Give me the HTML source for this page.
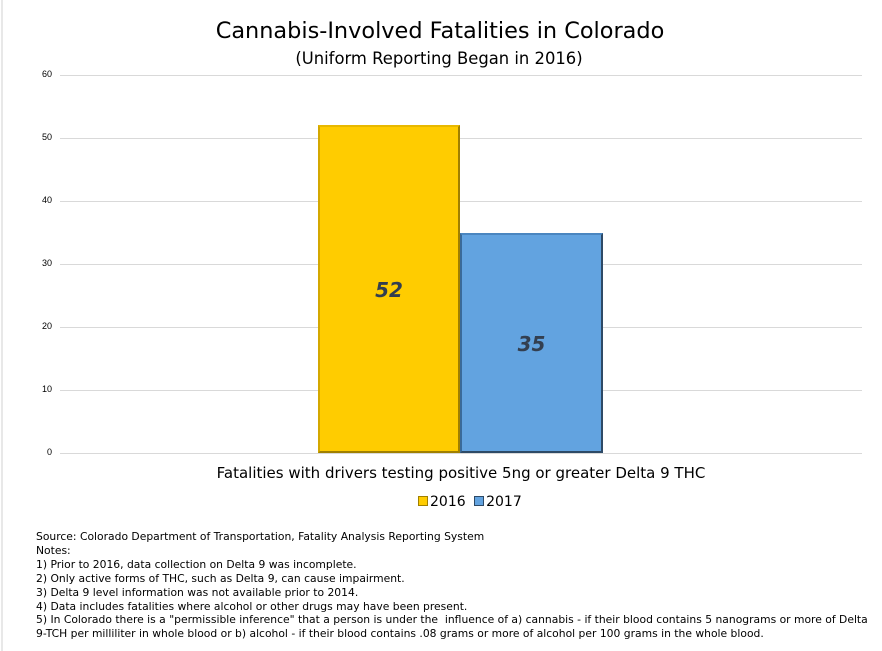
<!DOCTYPE html>
<html><head><style>
body{margin:0;background:#fff;width:882px;height:651px;overflow:hidden;position:relative;font-family:"DejaVu Sans","Liberation Sans",sans-serif;color:#000}
.a{position:absolute;white-space:nowrap}
.g{position:absolute;left:60px;width:802px;height:1px;background:#d9d9d9}
.y{position:absolute;left:20px;width:32px;text-align:right;font-size:9px;font-family:"Liberation Sans",sans-serif}
.n{position:absolute;left:36px;font-size:10.75px;line-height:13.9px;white-space:nowrap}
</style></head><body>
<div class="a" style="left:1px;top:0;width:2px;height:651px;background:#e8e8e8"></div>
<div class="a" style="left:0;width:880px;text-align:center;top:18px;font-size:22.4px">Cannabis-Involved Fatalities in Colorado</div>
<div class="a" style="left:0;width:878px;text-align:center;top:49px;font-size:16.4px">(Uniform Reporting Began in 2016)</div>
<div class="g" style="top:75px"></div><div class="y" style="top:69px">60</div>
<div class="g" style="top:138px"></div><div class="y" style="top:132px">50</div>
<div class="g" style="top:201px"></div><div class="y" style="top:195px">40</div>
<div class="g" style="top:264px"></div><div class="y" style="top:258px">30</div>
<div class="g" style="top:327px"></div><div class="y" style="top:321px">20</div>
<div class="g" style="top:390px"></div><div class="y" style="top:384px">10</div>
<div class="g" style="top:453px"></div><div class="y" style="top:447px">0</div>
<div class="a" style="left:318px;top:125px;width:138px;height:324px;background:#ffcc00;border:2px solid #a08000;border-top-color:#e8b800;border-left-color:#d4a800"></div>
<div class="a" style="left:460px;top:233px;width:139px;height:216px;background:#62a3e0;border:2px solid #2e4a66;border-top-color:#4a86c0;border-left-color:#3a6a99"></div>
<div class="a" style="left:318px;width:142px;text-align:center;top:278px;font-size:20px;font-weight:bold;font-style:italic;color:#333f50">52</div>
<div class="a" style="left:460px;width:143px;text-align:center;top:332px;font-size:20px;font-weight:bold;font-style:italic;color:#333f50">35</div>
<div class="a" style="left:0;width:922px;text-align:center;top:464px;font-size:15px">Fatalities with drivers testing positive 5ng or greater Delta 9 THC</div>
<div class="a" style="left:418px;top:494px;font-size:14px"><span style="display:inline-block;width:8px;height:8px;background:#ffcc00;border:1px solid #a08000;margin-right:2px"></span>2016 <span style="display:inline-block;width:8px;height:8px;background:#62a3e0;border:1px solid #2e4a66;margin:0 2px 0 4px"></span>2017</div>
<div class="n" style="top:530px">Source: Colorado Department of Transportation, Fatality Analysis Reporting System<br>Notes:<br>1) Prior to 2016, data collection on Delta 9 was incomplete.<br>2) Only active forms of THC, such as Delta 9, can cause impairment.<br>3) Delta 9 level information was not available prior to 2014.<br>4) Data includes fatalities where alcohol or other drugs may have been present.<br>5) In Colorado there is a "permissible inference" that a person is under the&nbsp; influence of a) cannabis - if their blood contains 5 nanograms or more of Delta<br>9-TCH per milliliter in whole blood or b) alcohol - if their blood contains .08 grams or more of alcohol per 100 grams in the whole blood.</div>
</body></html>
